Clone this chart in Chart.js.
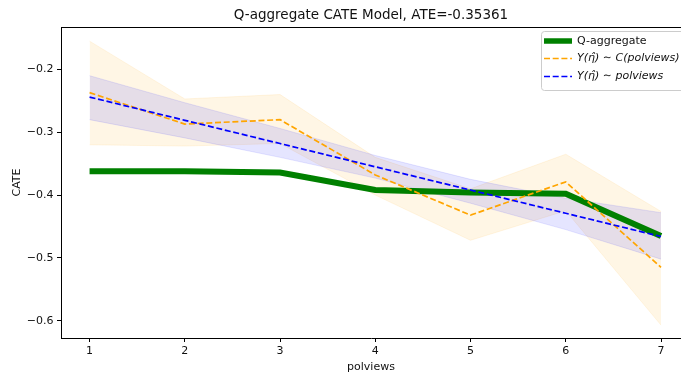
<!DOCTYPE html>
<html>
<head>
<meta charset="utf-8">
<script src="https://cdn.jsdelivr.net/npm/chart.js@4.4.0/dist/chart.umd.min.js"></script>
<style>
  body { margin: 0; background: #fff; }
  #wrap { width: 681px; height: 374px; }
</style>
</head>
<body>
<div id="wrap"><canvas id="grafica" width="681" height="374"></canvas></div>
<script>
// valores
const polviews = [1, 2, 3, 4, 5, 6, 7];
const qAggregate = [-0.362, -0.362, -0.364, -0.392, -0.396, -0.398, -0.465];
const catPolviews = [-0.237, -0.287, -0.280, -0.368, -0.432, -0.379, -0.515];
const catLow = [-0.320, -0.322, -0.318, -0.400, -0.472, -0.425, -0.607];
const catHigh = [-0.155, -0.247, -0.240, -0.340, -0.390, -0.335, -0.426];
const linPolviews = [-0.244, -0.281, -0.318, -0.355, -0.392, -0.429, -0.466];
const linLow = [-0.280, -0.309, -0.340, -0.373, -0.413, -0.455, -0.502];
const linHigh = [-0.210, -0.253, -0.294, -0.337, -0.375, -0.405, -0.428];
const yTicks = [-0.6, -0.5, -0.4, -0.3, -0.2];
const xTicks = [1, 2, 3, 4, 5, 6, 7];

const etiquetas = ["Q-aggregate", "Y(\u03B7\u0302) \u223C C(polviews)", "Y(\u03B7\u0302) \u223C polviews"];
const fuente = "'DejaVu Sans', sans-serif";

function puntos(vals) {
  return polviews.map((x, i) => ({ x: x, y: vals[i] }));
}

function menos(v) {
  return (v < 0 ? "\u2212" : "") + Math.abs(v).toFixed(1);
}

// borde superior y leyenda dentro del area
const extras = {
  id: "extras",
  afterDraw(chart) {
    const ctx = chart.ctx;
    const a = chart.chartArea;
    ctx.save();
    ctx.strokeStyle = "#000";
    ctx.lineWidth = 1;
    ctx.beginPath();
    ctx.moveTo(a.left, a.top + 0.5);
    ctx.lineTo(a.right, a.top + 0.5);
    ctx.stroke();

    // caja de la leyenda
    const bx = 541, by = 31, bw = 145, bh = 59;
    ctx.fillStyle = "rgba(255,255,255,0.8)";
    ctx.strokeStyle = "#cccccc";
    ctx.beginPath();
    ctx.roundRect(bx + 0.5, by + 0.5, bw, bh, 3);
    ctx.fill();
    ctx.stroke();

    const filas = [
      { color: "green", ancho: 5.5, guion: [], y: 41, italic: false },
      { color: "orange", ancho: 1.7, guion: [6, 2.7], y: 58.5, italic: true },
      { color: "blue", ancho: 1.7, guion: [6, 2.7], y: 76.5, italic: true }
    ];
    filas.forEach((f, i) => {
      ctx.strokeStyle = f.color;
      ctx.lineWidth = f.ancho;
      ctx.setLineDash(f.guion);
      ctx.beginPath();
      ctx.moveTo(544, f.y);
      ctx.lineTo(572, f.y);
      ctx.stroke();
      ctx.setLineDash([]);
      ctx.fillStyle = "#111";
      ctx.font = (f.italic ? "italic " : "") + "11px " + fuente;
      ctx.textBaseline = "middle";
      ctx.textAlign = "left";
      ctx.fillText(etiquetas[i], 577, f.y);
    });
    ctx.restore();
  }
};

const ctx = document.getElementById("grafica").getContext("2d");
new Chart(ctx, {
  type: "line",
  data: {
    datasets: [
      {
        label: etiquetas[0],
        data: puntos(qAggregate),
        borderColor: "green",
        borderWidth: 6,
        pointRadius: 0,
        fill: false,
        order: 3
      },
      {
        label: etiquetas[1],
        data: puntos(catPolviews),
        borderColor: "orange",
        borderWidth: 1.7,
        borderDash: [6, 2.7],
        pointRadius: 0,
        fill: false,
        order: 2
      },
      {
        label: etiquetas[2],
        data: puntos(linPolviews),
        borderColor: "blue",
        borderWidth: 1.7,
        borderDash: [6, 2.7],
        pointRadius: 0,
        fill: false,
        order: 1
      },
      {
        label: "cat-low",
        data: puntos(catLow),
        borderColor: "rgba(255,165,0,0.1)",
        borderWidth: 1,
        pointRadius: 0,
        fill: false,
        order: 6
      },
      {
        label: "cat-high",
        data: puntos(catHigh),
        borderColor: "rgba(255,165,0,0.1)",
        backgroundColor: "rgba(255,165,0,0.1)",
        borderWidth: 1,
        pointRadius: 0,
        fill: "-1",
        order: 6
      },
      {
        label: "lin-low",
        data: puntos(linLow),
        borderColor: "rgba(0,0,255,0.1)",
        borderWidth: 1,
        pointRadius: 0,
        fill: false,
        order: 5
      },
      {
        label: "lin-high",
        data: puntos(linHigh),
        borderColor: "rgba(0,0,255,0.1)",
        backgroundColor: "rgba(0,0,255,0.1)",
        borderWidth: 1,
        pointRadius: 0,
        fill: "-1",
        order: 5
      }
    ]
  },
  options: {
    responsive: false,
    animation: false,
    layout: { padding: 0 },
    plugins: {
      legend: { display: false },
      tooltip: { enabled: false },
      title: {
        display: true,
        fullSize: false,
        text: "Q-aggregate CATE Model, ATE=-0.35361",
        color: "#111",
        font: { family: fuente, size: 13.5, weight: "normal", lineHeight: 1.2 },
        padding: { top: 7, bottom: 3.8 }
      }
    },
    scales: {
      x: {
        type: "linear",
        min: 0.7,
        max: 7.21,
        afterBuildTicks: s => { s.ticks = xTicks.map(v => ({ value: v })); },
        afterFit: s => { s.height = 36; },
        grid: { display: true, drawOnChartArea: false, drawTicks: true, tickLength: 4, color: "#000" },
        border: { display: true, color: "#000", width: 1 },
        ticks: {
          color: "#111",
          padding: 3,
          maxRotation: 0,
          font: { family: fuente, size: 11 },
          callback: v => String(v)
        },
        title: {
          display: true,
          text: "polviews",
          color: "#111",
          font: { family: fuente, size: 11 },
          padding: { top: 0, bottom: 0.5 }
        }
      },
      y: {
        min: -0.6275,
        max: -0.1325,
        afterBuildTicks: s => { s.ticks = yTicks.map(v => ({ value: v })); },
        afterFit: s => { s.width = 61; },
        grid: { display: true, drawOnChartArea: false, drawTicks: true, tickLength: 4, color: "#000" },
        border: { display: true, color: "#000", width: 1 },
        ticks: {
          color: "#111",
          padding: 3.5,
          font: { family: fuente, size: 11 },
          callback: v => menos(v)
        },
        title: {
          display: true,
          text: "CATE",
          color: "#111",
          font: { family: fuente, size: 11 },
          padding: { top: 10.4, bottom: 0 }
        }
      }
    }
  },
  plugins: [extras]
});
</script>
</body>
</html>
